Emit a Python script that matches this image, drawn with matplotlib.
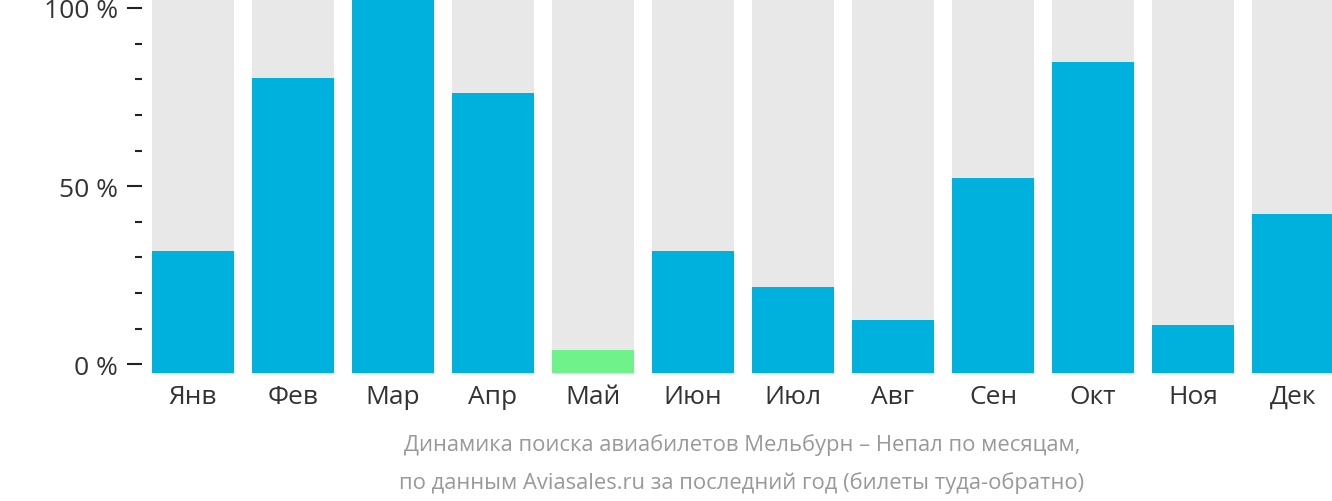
import numpy as np
import matplotlib.pyplot as plt
from matplotlib.ticker import MultipleLocator, FuncFormatter

plt.rcParams['font.family'] = ['Open Sans', 'DejaVu Sans']

months = ['Янв', 'Фев', 'Мар', 'Апр', 'Май', 'Июн',
          'Июл', 'Авг', 'Сен', 'Окт', 'Ноя', 'Дек']
values = [31.9, 80.4, 103, 76.2, 4.0, 31.9, 21.6, 12.6, 52.4, 84.9, 11.2, 42.3]
colors = ['#00b1dd'] * 12
colors[4] = '#6ff28a'
caption = ('Динамика поиска авиабилетов Мельбурн – Непал по месяцам,\n'
           'по данным Aviasales.ru за последний год (билеты туда-обратно)')

base = -2.4
top = 102.5

fig = plt.figure(figsize=(13.32, 5.02), dpi=100)
ax = fig.add_axes([142 / 1332, 128 / 502, 1190 / 1332, 374 / 502])

x = np.arange(len(months))
ax.bar(x, top - base, bottom=base, width=0.82, color='#e8e8e8')
ax.bar(x, np.array(values) - base, bottom=base, width=0.82, color=colors)

ax.set_xlim(-0.51, 11.39)
ax.set_ylim(base, top)

for s in ax.spines.values():
    s.set_visible(False)

ax.yaxis.set_major_locator(MultipleLocator(50))
ax.yaxis.set_minor_locator(MultipleLocator(10))
ax.yaxis.set_major_formatter(FuncFormatter(lambda v, p: f'{v:.0f} %'))
ax.tick_params(axis='y', which='major', length=10.5, width=1.5, color='#222222',
               labelsize=19, labelcolor='#333333', pad=7)
ax.tick_params(axis='y', which='minor', length=5, width=1.5, color='#222222')

ax.set_xticks(x)
ax.set_xticklabels(months)
ax.tick_params(axis='x', length=0, labelsize=19, labelcolor='#333333', pad=8)

fig.text(742 / 1332, 1 - 464 / 502, caption, ha='center', va='center',
         fontsize=15.8, color='#999999', linespacing=1.95)

fig.savefig('out.png', dpi=100)
